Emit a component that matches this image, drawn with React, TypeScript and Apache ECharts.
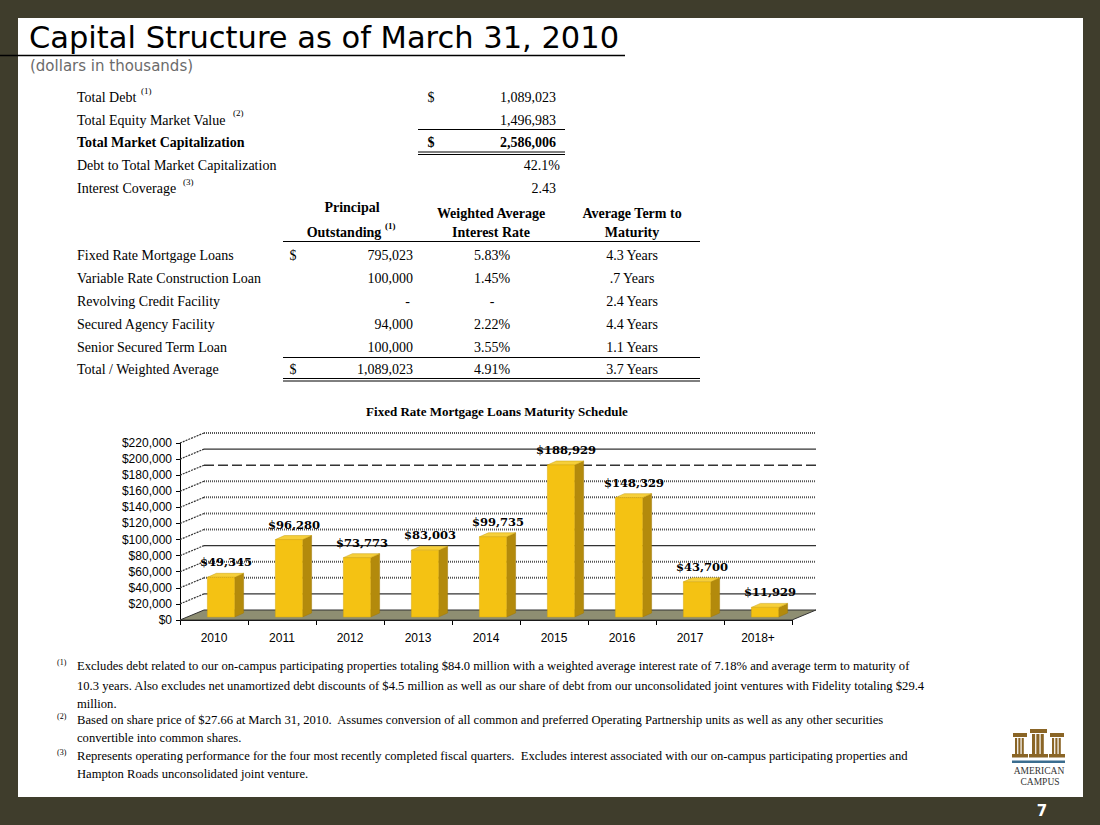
import React, { useEffect, useRef } from "react";
import * as echarts from "echarts";

// ---------- data ----------
const CATEGORIES = ["2010", "2011", "2012", "2013", "2014", "2015", "2016", "2017", "2018+"];
const MATURITIES = [49345, 96280, 73773, 83003, 99735, 188929, 148329, 43700, 11929];
const Y_TICKS = [0, 20000, 40000, 60000, 80000, 100000, 120000, 140000, 160000, 180000, 200000, 220000];
const GRID_KINDS = ["floor", "solid", "dotted", "dotted", "solid", "dotted", "dotted", "dotted", "dotted", "dashed", "solid", "dotted"];

const CAP_LABELS = [
  "Total Debt",
  "Total Equity Market Value",
  "Total Market Capitalization",
  "Debt to Total Market Capitalization",
  "Interest Coverage",
];
const CAP_VALUES = ["1,089,023", "1,496,983", "2,586,006", "42.1%", "2.43"];

const DEBT_LABELS = [
  "Fixed Rate Mortgage Loans",
  "Variable Rate Construction Loan",
  "Revolving Credit Facility",
  "Secured Agency Facility",
  "Senior Secured Term Loan",
  "Total / Weighted Average",
];
const DEBT_PRINCIPAL = ["795,023", "100,000", "-", "94,000", "100,000", "1,089,023"];
const DEBT_RATE = ["5.83%", "1.45%", "-", "2.22%", "3.55%", "4.91%"];
const DEBT_TERM = ["4.3 Years", ".7 Years", "2.4 Years", "4.4 Years", "1.1 Years", "3.7 Years"];

const FOOTNOTES = [
  [
    "Excludes debt related to our on-campus participating properties totaling $84.0 million with a weighted average interest rate of 7.18% and average term to maturity of",
    "10.3 years. Also excludes net unamortized debt discounts of $4.5 million as well as our share of debt from our unconsolidated joint ventures with Fidelity totaling $29.4",
    "million.",
  ],
  [
    "Based on share price of $27.66 at March 31, 2010.  Assumes conversion of all common and preferred Operating Partnership units as well as any other securities",
    "convertible into common shares.",
  ],
  [
    "Represents operating performance for the four most recently completed fiscal quarters.  Excludes interest associated with our on-campus participating properties and",
    "Hampton Roads unconsolidated joint venture.",
  ],
];

// ---------- helpers ----------
const SERIF = '"Liberation Serif", "Times New Roman", serif';
const SANS = '"Liberation Sans", Arial, sans-serif';
const VERD = '"DejaVu Sans", Verdana, sans-serif';

function T(x: number, y: number, text: string, font: string, align = "left", color = "#000", va = "middle") {
  return {
    type: "text",
    x,
    y,
    silent: true,
    style: {
      text,
      font,
      fill: color,
      align,
      textAlign: align,
      verticalAlign: va,
      textVerticalAlign: va,
    },
  };
}
function L(x1: number, y1: number, x2: number, y2: number, w = 1, color = "#000") {
  return { type: "line", silent: true, shape: { x1, y1, x2, y2 }, style: { stroke: color, lineWidth: w } };
}
function R(x: number, y: number, width: number, height: number, fill: string) {
  return { type: "rect", silent: true, shape: { x, y, width, height }, style: { fill } };
}
const fmt = (v: number) => "$" + v.toLocaleString("en-US");

function buildGraphics() {
  const g: any[] = [];
  // title
  g.push(T(29, 37, "Capital Structure as of March 31, 2010", `30.5px ${VERD}`));
  g.push(L(0, 55.5, 625, 55.5, 1.5));
  g.push(T(30, 66, "(dollars in thousands)", `15px ${VERD}`, "left", "#6b6b6b"));

  // capitalization table
  const capY = [97, 120, 142, 165, 188];
  CAP_LABELS.forEach((lab, i) => {
    const bold = i === 2;
    g.push(T(77, capY[i], lab, `${bold ? "bold " : ""}14px ${SERIF}`));
    const right = i === 3 ? 560 : 556;
    g.push(T(right, capY[i], CAP_VALUES[i], `${bold ? "bold " : ""}14px ${SERIF}`, "right"));
  });
  g.push(T(141, 91, "(1)", `9px ${SERIF}`));
  g.push(T(233, 113, "(2)", `9px ${SERIF}`));
  g.push(T(183, 182, "(3)", `9px ${SERIF}`));
  g.push(T(431, capY[0], "$", `14px ${SERIF}`, "center"));
  g.push(T(431, capY[2], "$", `bold 14px ${SERIF}`, "center"));
  g.push(L(418, 129.5, 565, 129.5));
  g.push(L(418, 152, 565, 152));
  g.push(L(418, 154.5, 565, 154.5));

  // debt table header
  g.push(T(352, 207, "Principal", `bold 14px ${SERIF}`, "center"));
  g.push(T(344, 232, "Outstanding", `bold 14px ${SERIF}`, "center"));
  g.push(T(385, 226, "(1)", `bold 9px ${SERIF}`));
  g.push(T(491, 213, "Weighted Average", `bold 14px ${SERIF}`, "center"));
  g.push(T(491, 232, "Interest Rate", `bold 14px ${SERIF}`, "center"));
  g.push(T(632, 213, "Average Term to", `bold 14px ${SERIF}`, "center"));
  g.push(T(632, 232, "Maturity", `bold 14px ${SERIF}`, "center"));
  g.push(L(283, 241.5, 700, 241.5));

  const dY = [255, 278, 301, 324, 347, 369];
  DEBT_LABELS.forEach((lab, i) => {
    g.push(T(77, dY[i], lab, `14px ${SERIF}`));
    const p = DEBT_PRINCIPAL[i];
    g.push(T(p === "-" ? 410 : 413, dY[i], p, `14px ${SERIF}`, "right"));
    g.push(T(492, dY[i], DEBT_RATE[i], `14px ${SERIF}`, "center"));
    g.push(T(632, dY[i], DEBT_TERM[i], `14px ${SERIF}`, "center"));
  });
  g.push(T(293, dY[0], "$", `14px ${SERIF}`, "center"));
  g.push(T(293, dY[5], "$", `14px ${SERIF}`, "center"));
  g.push(L(283, 357.5, 700, 357.5));
  g.push(L(283, 378.5, 700, 378.5));
  g.push(L(283, 381, 700, 381));

  // chart title
  g.push(T(497, 411, "Fixed Rate Mortgage Loans Maturity Schedule", `bold 13px ${SERIF}`, "center"));

  // footnotes
  const fy = [[666, 686, 704], [720, 738], [756, 774]];
  FOOTNOTES.forEach((lines, k) => {
    g.push(T(57, fy[k][0] - 4, `(${k + 1})`, `8px ${SERIF}`));
    lines.forEach((ln, j) => g.push(T(77, fy[k][j], ln, `12.6px ${SERIF}`)));
  });

  // logo
  const brown = "#8a6526";
  const cols = [
    [1013, 1027, 733],
    [1030, 1047, 729],
    [1050, 1064, 733],
  ];
  cols.forEach(([x0, x1, top]) => {
    g.push(R(x0, top, x1 - x0, 4, brown));
    const sw = x1 - x0 - 4;
    const fl = sw / 3;
    for (let k = 0; k < 3; k++) g.push(R(x0 + 2 + k * fl, top + 5, fl - 1.2, 749 - top, brown));
    g.push(R(x0 - 1, 754, x1 - x0 + 2, 3.5, brown));
  });
  g.push(R(1012, 760.5, 53, 2.5, "#3b6d8f"));
  g.push(T(1039, 770.5, "AMERICAN", `9.5px ${SERIF}`, "center", "#333"));
  g.push(T(1040, 781.5, "CAMPUS", `9.5px ${SERIF}`, "center", "#333"));

  // page number
  g.push(T(1042, 811, "7", `bold 15px ${VERD}`, "center", "#ffffff"));
  return g;
}

const DX = 24;
const DY = -10;

function buildOption() {
  return {
    animation: false,
    graphic: { elements: buildGraphics() },
    grid: { left: 180, top: 443, width: 612, height: 177, containLabel: false },
    xAxis: {
      type: "category",
      data: CATEGORIES,
      axisLine: { show: true, lineStyle: { color: "#000", width: 1 } },
      axisTick: { show: true, length: 5, alignWithLabel: false, lineStyle: { color: "#000" } },
      axisLabel: { margin: 12, fontFamily: SANS, fontSize: 12, color: "#000" },
      splitLine: { show: false },
    },
    yAxis: {
      type: "value",
      min: 0,
      max: 220000,
      interval: 20000,
      axisLine: { show: true, lineStyle: { color: "#000", width: 1 } },
      axisTick: { show: true, length: 4, lineStyle: { color: "#000" } },
      axisLabel: { margin: 8, fontFamily: SANS, fontSize: 12, color: "#000", formatter: (v: number) => fmt(v) },
      splitLine: { show: false },
    },
    series: [
      {
        type: "custom",
        name: "walls",
        coordinateSystem: "cartesian2d",
        silent: true,
        clip: false,
        z: 1,
        data: Y_TICKS.map((v, i) => [0, v, i]),
        renderItem: (params: any, api: any) => {
          const cs = params.coordSys;
          const v = api.value(1);
          const kind = GRID_KINDS[api.value(2)];
          const y = api.coord([0, v])[1];
          const left = cs.x;
          const right = cs.x + cs.width;
          const children: any[] = [];
          if (kind === "floor") {
            children.push({
              type: "polygon",
              shape: { points: [[left, y], [right, y], [right + DX, y + DY], [left + DX, y + DY]] },
              style: { fill: "#8e8e72", stroke: "#333", lineWidth: 1 },
            });
          } else {
            const ls: any = { stroke: "#333", lineWidth: 1.2 };
            if (kind === "dotted") {
              ls.lineDash = [1, 1];
              ls.lineWidth = 2;
              ls.stroke = "#555";
            } else if (kind === "dashed") {
              ls.lineDash = [10, 4];
              ls.lineWidth = 1.5;
            }
            children.push({
              type: "line",
              shape: { x1: left + DX, y1: y + DY, x2: right + DX, y2: y + DY },
              style: ls,
            });
            children.push({
              type: "line",
              shape: { x1: left, y1: y, x2: left + DX, y2: y + DY },
              style: { stroke: "#333", lineWidth: 1.2, lineDash: [2, 1] },
            });
          }
          return { type: "group", children };
        },
      },
      {
        type: "custom",
        name: "Fixed Rate Mortgage Loans",
        coordinateSystem: "cartesian2d",
        silent: true,
        clip: false,
        z: 3,
        data: MATURITIES.map((v, i) => [i, v]),
        renderItem: (params: any, api: any) => {
          const i = api.value(0);
          const v = api.value(1);
          const [cx, yTop] = api.coord([i, v]);
          const y0 = api.coord([i, 0])[1];
          const w = api.size([1, 0])[0] * 0.4;
          const ox = 7;
          const oy = -3;
          const dx = 9;
          const dy = -4;
          const x1 = cx + ox - w / 2;
          const x2 = cx + ox + w / 2;
          const yt = yTop + oy;
          const yb = y0 + oy;
          return {
            type: "group",
            children: [
              {
                type: "polygon",
                shape: { points: [[x2, yt], [x2 + dx, yt + dy], [x2 + dx, yb + dy], [x2, yb]] },
                style: { fill: "#b38a0c", stroke: "#a07a08", lineWidth: 0.5 },
              },
              {
                type: "polygon",
                shape: { points: [[x1, yt], [x1 + dx, yt + dy], [x2 + dx, yt + dy], [x2, yt]] },
                style: { fill: "#f6cf3a", stroke: "#c9a010", lineWidth: 0.5 },
              },
              {
                type: "rect",
                shape: { x: x1, y: yt, width: w, height: yb - yt },
                style: { fill: "#f4c213", stroke: "#d9a90c", lineWidth: 0.5 },
              },
              {
                type: "text",
                x: cx + ox + 5,
                y: yt - 9,
                style: {
                  text: fmt(v),
                  font: `bold 11.5px "DejaVu Serif", serif`,
                  fill: "#000",
                  align: "center",
                  textAlign: "center",
                  verticalAlign: "bottom",
                  textVerticalAlign: "bottom",
                },
              },
            ],
          };
        },
      },
    ],
  };
}

export default function App() {
  const ref = useRef<HTMLDivElement>(null);
  useEffect(() => {
    const chart = echarts.init(ref.current!, null, { renderer: "svg" });
    chart.setOption(buildOption() as any);
    return () => chart.dispose();
  }, []);
  return (
    <div style={{ position: "absolute", left: 0, top: 0, width: 1100, height: 825, background: "#3f3d2c" }}>
      <div style={{ position: "absolute", left: 18, top: 18, width: 1065, height: 779, background: "#ffffff" }} />
      <div ref={ref} style={{ position: "absolute", left: 0, top: 0, width: 1100, height: 825 }} />
    </div>
  );
}
